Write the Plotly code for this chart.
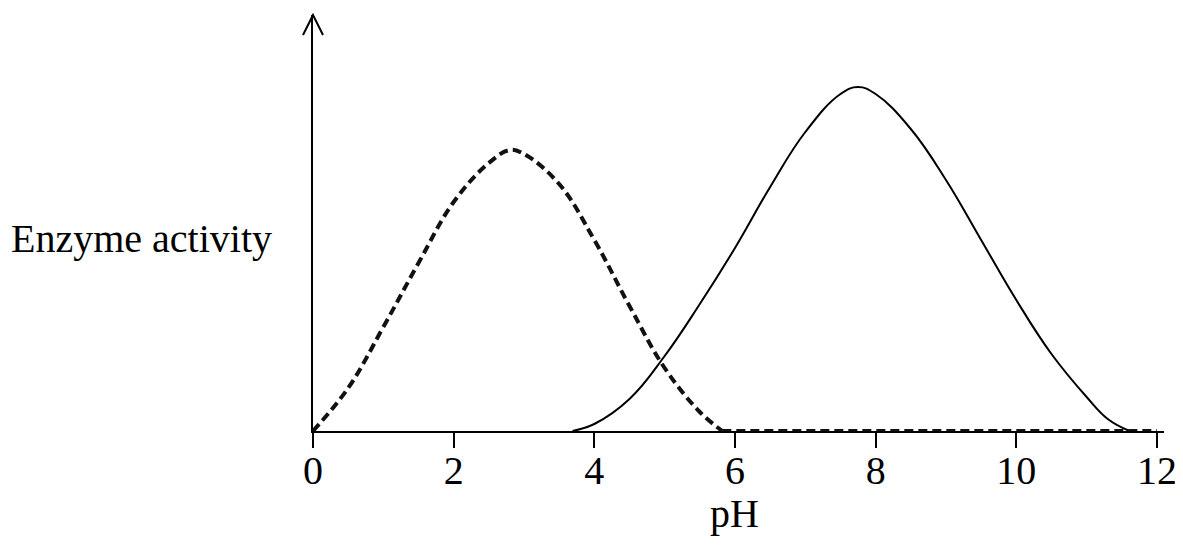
import plotly.graph_objects as go

# values (activity in arbitrary units)
solid_ph = [3.69, 4.0, 4.5, 5.0, 5.5, 6.0, 6.5, 7.0, 7.5, 7.75,
            8.0, 8.5, 9.0, 9.5, 10.0, 10.5, 11.0, 11.3, 11.61]
solid_act = [0, 7, 32, 75, 127, 183, 244, 299, 337, 344,
             337, 302, 251, 191, 131, 77, 34, 12, 0]

dashed_ph = [0, 0.5, 1.0, 1.5, 2.0, 2.5, 2.8, 3.0, 3.5, 4.0, 4.5,
             5.0, 5.5, 5.82]
dashed_act = [0, 43, 104, 168, 229, 268, 281, 277, 247, 191, 125,
              63, 19, 0]
# dashed curve stays at zero activity from here on
dashed_flat_ph = [5.82, 12.0]
dashed_flat_act = [0, 0]

tick_vals = [0, 2, 4, 6, 8, 10, 12]

FONT = "Liberation Serif"
DASH = dict(color="#111111", width=4, dash="9px,5px")

fig = go.Figure()

fig.add_trace(go.Scatter(
    x=solid_ph, y=solid_act, mode="lines",
    line=dict(color="black", width=2, shape="spline", smoothing=1.2),
    cliponaxis=False, showlegend=False, hoverinfo="skip",
))

fig.add_trace(go.Scatter(
    x=dashed_ph, y=dashed_act, mode="lines",
    line=dict(DASH, shape="spline", smoothing=1.1),
    cliponaxis=False, showlegend=False, hoverinfo="skip",
))

fig.add_trace(go.Scatter(
    x=dashed_flat_ph, y=dashed_flat_act, mode="lines",
    line=DASH,
    cliponaxis=False, showlegend=False, hoverinfo="skip",
))

# the page body adds an 8px offset, so the figure is a little smaller than the window
fig.update_layout(
    width=1175, height=542,
    margin=dict(l=305, r=19, t=7, b=119, autoexpand=False),
    plot_bgcolor="white", paper_bgcolor="white",
    font=dict(family=FONT, size=40, color="black"),
    xaxis=dict(
        range=[0, 12.1], showgrid=False, zeroline=False,
        showline=True, linecolor="black", linewidth=2,
        tickmode="array", tickvals=tick_vals, ticktext=[str(v) for v in tick_vals],
        ticks="outside", ticklen=15, tickwidth=2, tickcolor="black",
        ticklabelstandoff=-12,
        tickfont=dict(family=FONT, size=40, color="black"),
    ),
    yaxis=dict(
        range=[0, 416], showgrid=False, zeroline=False,
        showline=True, linecolor="black", linewidth=2,
        showticklabels=False, ticks="",
    ),
    annotations=[
        dict(text="pH", xref="x", x=6, yref="paper", y=0, yanchor="middle",
             yshift=-82, showarrow=False, font=dict(family=FONT, size=40)),
        dict(text="Enzyme activity", xref="paper", x=0, xanchor="right", xshift=-39,
             yref="y", y=193, yanchor="middle", showarrow=False,
             font=dict(family=FONT, size=40)),
    ],
    shapes=[
        # open arrowhead at the top of the activity axis
        dict(type="path", xref="paper", yref="paper", xsizemode="pixel", ysizemode="pixel",
             xanchor=0, yanchor=1, path="M -10,-20 L 0,0 L 10,-20",
             line=dict(color="black", width=2)),
    ],
)

fig.write_html("out.html")
